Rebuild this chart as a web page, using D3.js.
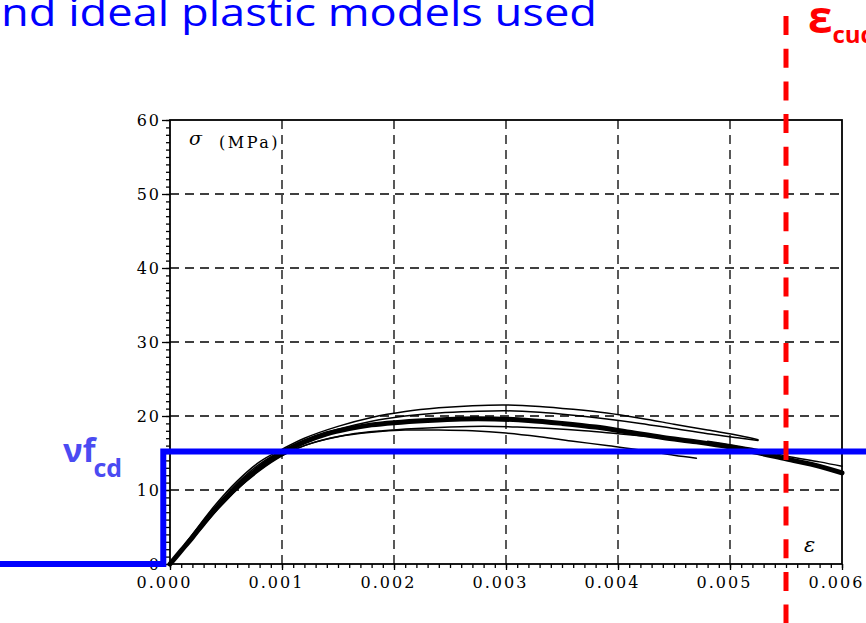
<!DOCTYPE html>
<html>
<head>
<meta charset="utf-8">
<script src="https://cdn.jsdelivr.net/npm/d3@7"></script>
<style>
  body { margin: 0; background: #fff; }
  svg { display: block; }
  .grid line { stroke: #000; stroke-width: 1.3px; stroke-dasharray: 9 6; }
  .axis text { font-family: "DejaVu Serif", serif; font-size: 16px; fill: #000; letter-spacing: 2px; }
  .axis line { stroke: #000; stroke-width: 1.3px; }
  .curve { fill: none; stroke: #000; stroke-linejoin: round; stroke-linecap: round; }
</style>
</head>
<body>
<svg id="chart" width="866" height="623"></svg>
<script>
// ---- data ----
const xTicks = [0, 0.001, 0.002, 0.003, 0.004, 0.005, 0.006];
const yTicks = [0, 10, 20, 30, 40, 50, 60];

// thick main test curve
const strainA = [0, 0.0001, 0.0002, 0.0003, 0.0004, 0.0005, 0.0006, 0.0007, 0.0008, 0.0009, 0.001,
                 0.0012, 0.0014, 0.0016, 0.0018, 0.002, 0.0023, 0.0026, 0.0029, 0.0032, 0.0035,
                 0.0038, 0.0041, 0.0044, 0.0047, 0.005, 0.0052, 0.0055, 0.0058, 0.006];
const stressA = [0, 1.8, 3.6, 5.5, 7.3, 8.9, 10.4, 11.8, 13.0, 14.1, 15.0,
                 16.5, 17.6, 18.3, 18.8, 19.1, 19.4, 19.6, 19.6, 19.4, 19.0,
                 18.5, 17.8, 17.1, 16.5, 15.8, 15.2, 14.2, 13.2, 12.3];

// thin test curves
const strainB = [0, 0.0002, 0.0004, 0.0006, 0.0008, 0.001, 0.0012, 0.0015, 0.0018, 0.0021, 0.0024,
                 0.0027, 0.003, 0.0033, 0.0036, 0.0039, 0.0042, 0.0045, 0.0048, 0.0051, 0.00525];
const stressB = [0, 4.0, 7.9, 11.2, 13.8, 15.5, 17.0, 18.6, 19.8, 20.6, 21.1,
                 21.4, 21.5, 21.3, 20.9, 20.4, 19.7, 18.9, 18.1, 17.3, 16.8];
const stressC = [0, 3.8, 7.6, 10.9, 13.5, 15.3, 16.7, 18.2, 19.3, 20.0, 20.4,
                 20.6, 20.7, 20.5, 20.1, 19.6, 19.0, 18.3, 17.6, 17.0, 16.7];

const strainD = [0, 0.0002, 0.0004, 0.0006, 0.0008, 0.001, 0.0012, 0.0015, 0.0018, 0.0021,
                 0.0024, 0.0027, 0.003, 0.0033, 0.0036, 0.0039, 0.0042, 0.0045, 0.0047];
const stressD = [0, 3.4, 7.0, 10.1, 12.6, 14.6, 16.0, 17.2, 17.8, 18.1,
                 18.1, 18.0, 17.7, 17.2, 16.6, 16.0, 15.4, 14.7, 14.3];

const strainE = [0, 0.0002, 0.0004, 0.0006, 0.0008, 0.001, 0.0013, 0.0016, 0.0019, 0.0022,
                 0.0025, 0.0028, 0.0031, 0.0034, 0.0037, 0.004, 0.0043];
const stressE = [0, 3.5, 7.1, 10.2, 12.8, 14.7, 16.5, 17.5, 18.0, 18.3,
                 18.5, 18.6, 18.5, 18.3, 18.0, 17.6, 17.2];

const strainF = [0.0048, 0.005, 0.0052, 0.0055, 0.0058, 0.006];
const stressF = [16.6, 16.1, 15.6, 14.6, 13.8, 13.2];

// ideal plastic model (blue) and ultimate strain (red)
const blueStrain = [-0.00152, -0.00006, -0.00006, 0.00623];
const blueStress = [0, 0, 15.2, 15.2];
const epsCud = 0.0055;

// ---- drawing ----
const svg = d3.select('#chart');
const W = 866, H = 623;

const xScale = d3.scaleLinear().domain([0, 0.006]).range([170, 842]);
const yScale = d3.scaleLinear().domain([0, 60]).range([564, 120]);

/* title, cut at the left edge */
svg.append('text')
    .attr('x', 1).attr('y', 26)
    .attr('textLength', 596).attr('lengthAdjust', 'spacingAndGlyphs')
    .style('font-family', '"Open Sans", sans-serif').style('font-size', '38px')
    .style('fill', '#0000ff')
    .text('nd ideal plastic models used');

/* dashed grid */
const grid = svg.append('g').attr('class', 'grid');
grid.selectAll('.vx').data(xTicks.slice(1, -1)).join('line')
    .attr('x1', d => xScale(d)).attr('x2', d => xScale(d))
    .attr('y1', yScale(60)).attr('y2', yScale(0));
grid.selectAll('.hy').data(yTicks.slice(1, -1)).join('line')
    .attr('y1', d => yScale(d)).attr('y2', d => yScale(d))
    .attr('x1', xScale(0)).attr('x2', xScale(0.006));

/* axes: major ticks with labels plus minor ticks */
const xAxis = d3.axisBottom(xScale).tickValues(xTicks).tickSize(6).tickFormat(d3.format('.3f'));
const xMinor = d3.axisBottom(xScale).tickValues(d3.range(0, 61).map(i => i / 10000)).tickSize(4).tickFormat('');
const yAxis = d3.axisLeft(yScale).tickValues(yTicks).tickSize(8).tickFormat(d3.format('d'));
const yMinor = d3.axisLeft(yScale).tickValues(d3.range(0, 61)).tickSize(4).tickFormat('');

svg.append('g').attr('class', 'axis').attr('transform', `translate(0,${yScale(0)})`).call(xMinor);
const gx = svg.append('g').attr('class', 'axis').attr('transform', `translate(0,${yScale(0)})`).call(xAxis);
gx.selectAll('text').attr('dx', -6).attr('y', 13);
svg.append('g').attr('class', 'axis').attr('transform', `translate(${xScale(0)},0)`).call(yMinor);
const gy = svg.append('g').attr('class', 'axis').attr('transform', `translate(${xScale(0)},0)`).call(yAxis);
gy.selectAll('text').attr('x', -9).attr('dy', '0.36em');
svg.selectAll('.axis .domain').remove();

/* plot frame */
svg.append('rect')
    .attr('x', xScale(0)).attr('y', yScale(60))
    .attr('width', xScale(0.006) - xScale(0)).attr('height', yScale(0) - yScale(60))
    .attr('fill', 'none').attr('stroke', '#000').attr('stroke-width', 1.8);

/* axis captions inside the frame */
svg.append('text').attr('x', 189).attr('y', 145)
    .style('font-family', '"DejaVu Serif", serif').style('font-style', 'italic').style('font-size', '19px')
    .text('σ');
svg.append('text').attr('x', 219).attr('y', 148)
    .style('font-family', '"DejaVu Serif", serif').style('font-size', '16px').style('letter-spacing', '2.5px')
    .text('(MPa)');
svg.append('text').attr('x', 804).attr('y', 552)
    .style('font-family', '"DejaVu Serif", serif').style('font-style', 'italic').style('font-size', '21px')
    .text('ε');

/* test curves */
const line = d3.line()
    .x(d => xScale(d[0]))
    .y(d => yScale(d[1]))
    .curve(d3.curveCatmullRom);

const thin = [
    [strainB, stressB], [strainB, stressC], [strainD, stressD], [strainE, stressE], [strainF, stressF]
];
svg.selectAll('.thin').data(thin).join('path')
    .attr('class', 'curve').attr('stroke-width', 1.5)
    .attr('d', d => line(d3.zip(d[0], d[1])));

svg.append('path').attr('class', 'curve').attr('stroke-width', 5)
    .attr('d', line(d3.zip(strainA, stressA)));

/* ideal plastic model */
svg.append('path')
    .attr('d', d3.line().x(d => xScale(d[0])).y(d => yScale(d[1]))(d3.zip(blueStrain, blueStress)))
    .attr('fill', 'none').attr('stroke', '#0000ff').attr('stroke-width', 6)
    .attr('stroke-linejoin', 'miter');

const vf = svg.append('text').attr('x', 63).attr('y', 462)
    .style('font-family', '"Open Sans", sans-serif').style('font-weight', 'bold')
    .style('fill', '#4b4bf2');
vf.append('tspan').style('font-size', '33px').text('νf');
vf.append('tspan').style('font-size', '25px').attr('dy', 15).attr('dx', -2).text('cd');

/* ultimate strain line */
svg.append('line')
    .attr('x1', xScale(epsCud)).attr('x2', xScale(epsCud))
    .attr('y1', 4).attr('y2', H)
    .attr('stroke', '#ff0000').attr('stroke-width', 5)
    .attr('stroke-dasharray', '19 13.7').attr('stroke-dashoffset', 20.7);

const ec = svg.append('text').attr('x', 808).attr('y', 33)
    .style('font-family', '"Open Sans", sans-serif').style('font-weight', 'bold')
    .style('fill', '#ff0000');
ec.append('tspan').style('font-size', '44px').text('ε');
ec.append('tspan').style('font-size', '24px').attr('dy', 10).text('cud');
</script>
</body>
</html>
